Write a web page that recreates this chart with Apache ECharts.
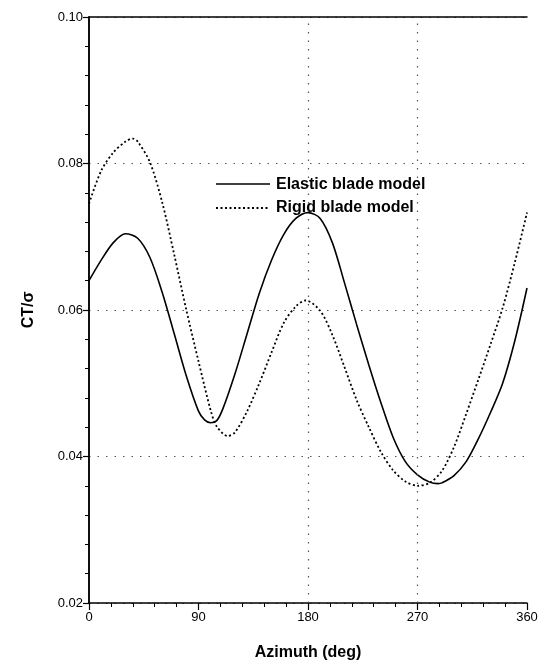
<!DOCTYPE html>
<html>
<head>
<meta charset="utf-8">
<script src="https://cdn.jsdelivr.net/npm/echarts@6/dist/echarts.min.js"></script>
<style>
html,body{margin:0;padding:0;background:#fff;}
#chart{width:544px;height:668px;}
</style>
</head>
<body>
<div id="chart"></div>
<script>
// Azimuth (deg)
const azimuth = [0,10,20,30,40,50,60,70,80,90,95,100,105,110,120,130,140,150,160,170,180,190,200,210,220,230,240,250,260,270,280,287,290,300,310,320,330,340,350,360];
// Elastic blade model CT/sigma
const elastic = [0.0640,0.0668,0.0692,0.0704,0.0698,0.0672,0.0625,0.0568,0.0510,0.0462,0.0450,0.0446,0.0449,0.0465,0.0513,0.0568,0.0623,0.0668,0.0703,0.0725,0.0733,0.0725,0.0692,0.0637,0.0580,0.0525,0.0473,0.0426,0.0393,0.0375,0.0365,0.0363,0.0364,0.0374,0.0393,0.0424,0.0460,0.0500,0.0558,0.0630];
// Rigid blade model: azimuth and CT/sigma
const azimuthRigid = [0,10,20,30,36,40,50,60,70,80,90,100,105,114,120,130,140,150,160,170,178,190,200,210,220,230,240,250,260,270,280,290,300,310,320,330,340,350,360];
const rigid = [0.0745,0.0790,0.0815,0.0830,0.0834,0.0830,0.0802,0.0748,0.0676,0.0600,0.0530,0.0463,0.0441,0.0428,0.0433,0.0462,0.0500,0.0542,0.0582,0.0605,0.0613,0.0599,0.0566,0.0522,0.0477,0.0440,0.0406,0.0381,0.0366,0.0360,0.0364,0.0380,0.0413,0.0458,0.0505,0.0553,0.0603,0.0665,0.0733];
const xTicks = [0,90,180,270,360];
const yTicks = [0.02,0.04,0.06,0.08,0.10];
const xGridMarks = [180,270];
const seriesNames = ['Elastic blade model','Rigid blade model'];

const zip = (xs, ys) => xs.map((x,i)=>[x, ys[i]]);
const font = 'Liberation Sans, Arial, sans-serif';

const chart = echarts.init(document.getElementById('chart'));
chart.setOption({
  backgroundColor: '#fff',
  animation: false,
  grid: {left: 89, right: 17, top: 17, bottom: 65},
  legend: {
    orient: 'vertical', left: 214, top: 172, itemWidth: 52, itemHeight: 10, itemGap: 7,
    textStyle: {fontFamily: font, fontSize: 16, color: '#000', fontWeight: 'bold'},
    data: seriesNames.map(n => ({name: n, icon: 'none'}))
  },
  graphic: [
    {type: 'line', shape: {x1: 216, y1: 0, x2: 270, y2: 0}, y: 184,
     style: {stroke: '#000', lineWidth: 1.6}, silent: true},
    {type: 'line', shape: {x1: 216, y1: 0, x2: 270, y2: 0}, y: 208,
     style: {stroke: '#000', lineWidth: 1.8, lineDash: [2, 2.5]}, silent: true}
  ],
  xAxis: [{
    type: 'value', min: xTicks[0], max: xTicks[xTicks.length-1], interval: 90,
    axisLine: {lineStyle: {color: '#000', width: 1.5}},
    axisTick: {show: true, length: 7, lineStyle: {color: '#000', width: 1.2}},
    minorTick: {show: true, splitNumber: 5, length: 4, lineStyle: {color: '#000', width: 1}},
    axisLabel: {color: '#000', fontSize: 13, fontFamily: font, margin: 8},
    splitLine: {show: false},
    name: 'Azimuth (deg)', nameLocation: 'middle', nameGap: 42,
    nameTextStyle: {color: '#000', fontSize: 16, fontWeight: 'bold', fontFamily: font}
  },{
    type: 'value', position: 'top', min: 0, max: 360, interval: 90,
    axisLine: {show: true, lineStyle: {color: '#000', width: 1.5}},
    axisTick: {show: false}, axisLabel: {show: false}, splitLine: {show: false}
  }],
  yAxis: [{
    type: 'value', min: yTicks[0], max: yTicks[yTicks.length-1], interval: 0.02,
    axisLine: {show: true, lineStyle: {color: '#000', width: 1.5}},
    axisTick: {show: true, length: 6, lineStyle: {color: '#000', width: 1.2}},
    minorTick: {show: true, splitNumber: 5, length: 4, lineStyle: {color: '#000', width: 1}},
    axisLabel: {color: '#000', fontSize: 13, fontFamily: font, margin: 6, formatter: v => v.toFixed(2)},
    splitLine: {show: true, lineStyle: {color: '#555', type: [1.5, 7], width: 1.2}},
    name: 'CT/σ', nameLocation: 'middle', nameGap: 52, nameRotate: 90,
    nameTextStyle: {color: '#000', fontSize: 16, fontWeight: 'bold', fontFamily: font}
  },{
    type: 'value', position: 'right', min: 0.02, max: 0.10, interval: 0.02,
    axisLine: {show: true, lineStyle: {color: '#000', width: 1.5}},
    axisTick: {show: true, inside: true, length: 3, lineStyle: {color: '#000'}},
    minorTick: {show: true, splitNumber: 5, length: 2, lineStyle: {color: '#000'}},
    axisLabel: {show: false}, splitLine: {show: false}
  }],
  series: [{
    name: seriesNames[0], type: 'line', smooth: 0.3, showSymbol: false, symbol: 'none',
    data: zip(azimuth, elastic),
    lineStyle: {color: '#000', width: 1.6, type: 'solid'},
    itemStyle: {color: '#000'},
    markLine: {
      silent: true, symbol: 'none', label: {show: false},
      lineStyle: {color: '#555', type: [1.5, 7], width: 1.2},
      data: xGridMarks.map(v => ({xAxis: v}))
    }
  },{
    name: seriesNames[1], type: 'line', smooth: 0.3, showSymbol: false, symbol: 'none',
    data: zip(azimuthRigid, rigid),
    lineStyle: {color: '#000', width: 1.8, type: [2, 2.5]},
    itemStyle: {color: '#000'}
  }]
});
</script>
</body>
</html>
